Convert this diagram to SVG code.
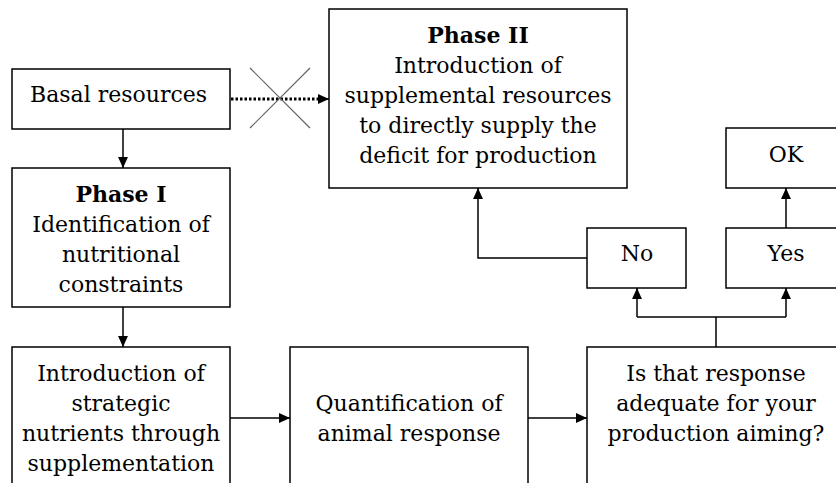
<svg xmlns="http://www.w3.org/2000/svg" width="836" height="483" viewBox="0 0 836 483">
<style>
.box{fill:#fff;stroke:#000;stroke-width:1.5}
text{font-family:"DejaVu Serif","Liberation Serif",serif;font-size:22px;fill:#000;text-anchor:middle}
.b{font-weight:bold}
.ln{fill:none;stroke:#000;stroke-width:1.5}
</style>
<defs>
<marker id="ah" viewBox="0 0 10 10" refX="10" refY="5" markerWidth="11" markerHeight="11" markerUnits="userSpaceOnUse" orient="auto">
<path d="M0,0.5 L10,5 L0,9.5 Z" fill="#000"/>
</marker>
</defs>
<rect width="836" height="483" fill="#fff"/>
<g id="connectors">
<line class="ln" x1="123" y1="129" x2="123" y2="168" marker-end="url(#ah)"/>
<line class="ln" x1="123" y1="307" x2="123" y2="347" marker-end="url(#ah)"/>
<line class="ln" x1="230" y1="418" x2="290" y2="418" marker-end="url(#ah)"/>
<line class="ln" x1="528" y1="418" x2="587" y2="418" marker-end="url(#ah)"/>
<line x1="231" y1="99" x2="320" y2="99" stroke="#000" stroke-width="3" stroke-dasharray="2.5,2"/>
<line class="ln" x1="318" y1="99" x2="329" y2="99" marker-end="url(#ah)"/>
<line x1="250" y1="68" x2="310" y2="128" stroke="#666" stroke-width="1.2"/>
<line x1="310" y1="68" x2="250" y2="128" stroke="#666" stroke-width="1.2"/>
<polyline class="ln" points="716,347 716,317"/>
<polyline class="ln" points="637,317 786,317"/>
<line class="ln" x1="637" y1="317" x2="637" y2="288" marker-end="url(#ah)"/>
<line class="ln" x1="786" y1="317" x2="786" y2="288" marker-end="url(#ah)"/>
<line class="ln" x1="786" y1="228" x2="786" y2="188" marker-end="url(#ah)"/>
<polyline class="ln" points="587,258 478,258 478,188" marker-end="url(#ah)"/>
</g>
<g id="basal">
<rect class="box" x="12" y="69" width="218" height="60"/>
<text x="30" y="102" style="text-anchor:start">Basal resources</text>
</g>
<g id="phase2">
<rect class="box" x="329" y="9" width="298" height="179"/>
<text class="b" x="478" y="43">Phase II</text>
<text x="478" y="73">Introduction of</text>
<text x="478" y="103">supplemental resources</text>
<text x="478" y="133">to directly supply the</text>
<text x="478" y="163">deficit for production</text>
</g>
<g id="phase1">
<rect class="box" x="12" y="168" width="218" height="139"/>
<text class="b" x="121" y="202">Phase I</text>
<text x="121" y="232">Identification of</text>
<text x="121" y="262">nutritional</text>
<text x="121" y="292">constraints</text>
</g>
<g id="intro">
<rect class="box" x="12" y="347" width="218" height="150"/>
<text x="121" y="381">Introduction of</text>
<text x="121" y="411">strategic</text>
<text x="121" y="441">nutrients through</text>
<text x="121" y="471">supplementation</text>
</g>
<g id="quant">
<rect class="box" x="290" y="347" width="238" height="150"/>
<text x="409" y="411">Quantification of</text>
<text x="409" y="441">animal response</text>
</g>
<g id="decision">
<rect class="box" x="587" y="347" width="259" height="150"/>
<text x="716" y="381">Is that response</text>
<text x="716" y="411">adequate for your</text>
<text x="716" y="441">production aiming?</text>
</g>
<g id="no">
<rect class="box" x="587" y="228" width="99" height="60"/>
<text x="637" y="261">No</text>
</g>
<g id="yes">
<rect class="box" x="726" y="228" width="120" height="60"/>
<text x="786" y="261">Yes</text>
</g>
<g id="ok">
<rect class="box" x="726" y="128" width="120" height="60"/>
<text x="786" y="162">OK</text>
</g>
</svg>
